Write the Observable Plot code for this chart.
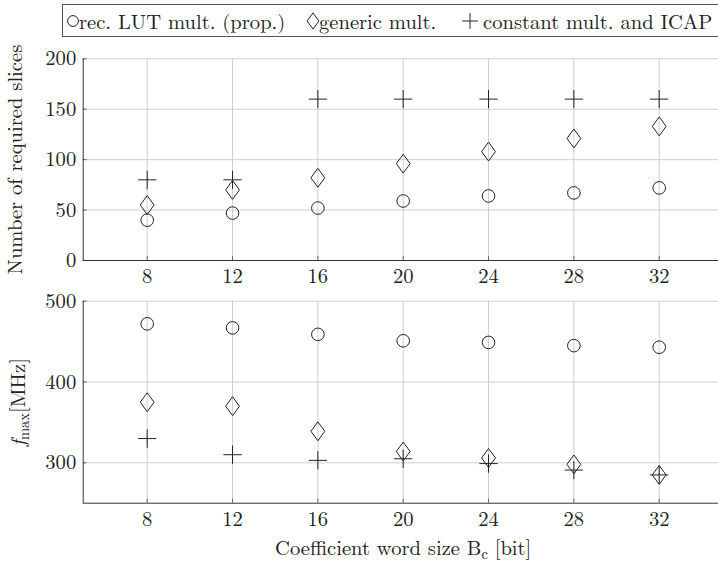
<!DOCTYPE html>
<html>
<head>
<meta charset="utf-8">
<script src="https://cdn.jsdelivr.net/npm/d3@7"></script>
<script src="https://cdn.jsdelivr.net/npm/@observablehq/plot@0.6"></script>
<style>
  html, body { margin: 0; padding: 0; background: #fff; }
  #chart { position: relative; width: 718px; height: 563px; overflow: hidden; color: #222; }
  #chart svg { position: absolute; left: 0; overflow: hidden; }
  #legend { position: absolute; left: 62px; top: 4px; width: 680px; height: 31px; border: 1px solid #555; box-sizing: content-box; }
  .li { position: absolute; top: 0; height: 31px; line-height: 31px; white-space: nowrap; }
</style>
</head>
<body>
<div id="chart">
  <div id="legend"></div>
</div>
<script>
// ---- data ----
const bits = [8, 12, 16, 20, 24, 28, 32];
const seriesNames = ["rec. LUT mult. (prop.)", "generic mult.", "constant mult. and ICAP"];
const slicesLUT = [40, 47, 52, 59, 64, 67, 72];
const slicesGeneric = [55, 70, 82, 96, 108, 121, 133];
const slicesConst = [80, 80, 160, 160, 160, 160, 160];
const fmaxLUT = [472, 467, 459, 451, 449, 445, 443];
const fmaxGeneric = [375, 370, 339, 314, 306, 298, 285];
const fmaxConst = [330, 310, 303, 305, 299, 291, 285];
const slicesTicks = [0, 50, 100, 150, 200];
const fmaxTicks = [300, 400, 500];
const xTitle = "Coefficient word size Bc [bit]";
const yTitleTop = "Number of required slices";
const yTitleBottom = "fmax[MHz]";

const FONT = '"Latin Modern Roman", "Liberation Serif", "Times New Roman", "DejaVu Serif"';
const FSIZE = "20.6px";

// ---- symbols (pgfplots-like) ----
const symCircle = {draw(ctx, size) { const r = Math.sqrt(size / Math.PI); ctx.moveTo(r, 0); ctx.arc(0, 0, r, 0, 2 * Math.PI); ctx.closePath(); }};
const symDiamond = {draw(ctx, size) { const r = Math.sqrt(size / Math.PI); const h = 1.5 * r, w = 1.1 * r; ctx.moveTo(0, -h); ctx.lineTo(w, 0); ctx.lineTo(0, h); ctx.lineTo(-w, 0); ctx.closePath(); }};
const symPlus = {draw(ctx, size) { const r = Math.sqrt(size / Math.PI) * 1.45; ctx.moveTo(-r, 0); ctx.lineTo(r, 0); ctx.moveTo(0, -r); ctx.lineTo(0, r); }};
const symbols = [symCircle, symDiamond, symPlus];

const ink = "#222";
const gridColor = "#cfcfcf";
const axisColor = "#333";
const fontStyle = {fontFamily: FONT, fontSize: FSIZE, background: "transparent", color: ink, overflow: "visible"};

function toRows(vals) { return bits.map((b, i) => ({b, v: vals[i]})); }

function panel({height, marginTop, marginBottom, yDomain, yTicks, series, extraMarks}) {
  const ySpan = yDomain[1] - yDomain[0];
  const yPx = (height - marginTop - marginBottom) / ySpan;
  const xPx = 640 / 30;
  return Plot.plot({
    width: 718,
    height,
    marginLeft: 82.7,
    marginRight: -4.7,
    marginTop,
    marginBottom,
    x: {domain: [5, 35]},
    y: {domain: yDomain},
    style: fontStyle,
    marks: [
      Plot.gridX(bits, {stroke: gridColor, strokeOpacity: 1}),
      Plot.gridY(yTicks, {stroke: gridColor, strokeOpacity: 1}),
      Plot.ruleX(bits, {x: d => d, y1: yDomain[0], y2: yDomain[0] + 4 / yPx, stroke: "#666"}),
      Plot.ruleY(yTicks, {y: d => d, x1: 5, x2: 5 + 4 / xPx, stroke: "#666"}),
      Plot.axisX({ticks: bits, tickSize: 0, tickPadding: 8, label: null}),
      Plot.axisY({ticks: yTicks, tickSize: 0, tickPadding: 7, label: null}),
      Plot.ruleX([5], {stroke: axisColor}),
      Plot.ruleY([yDomain[0]], {stroke: axisColor}),
      ...series.map((vals, i) => Plot.dot(toRows(vals), {x: "b", y: "v", symbol: symbols[i], r: 6.3, stroke: ink, strokeWidth: 1, fill: "none"})),
      ...extraMarks
    ]
  });
}

const chartEl = document.getElementById("chart");

const topPanel = panel({
  height: 250, marginTop: 18.3, marginBottom: 30,
  yDomain: [0, 200], yTicks: slicesTicks,
  series: [slicesLUT, slicesGeneric, slicesConst],
  extraMarks: [
    Plot.text([yTitleTop], {frameAnchor: "left", textAnchor: "middle", lineAnchor: "middle", rotate: -90, dx: -68, fill: ink})
  ]
});
topPanel.style.top = "40px";
chartEl.appendChild(topPanel);

const bottomPanel = panel({
  height: 273, marginTop: 10.7, marginBottom: 60.3,
  yDomain: [250, 500], yTicks: fmaxTicks,
  series: [fmaxLUT, fmaxGeneric, fmaxConst],
  extraMarks: [
    Plot.text([yTitleBottom], {frameAnchor: "left", textAnchor: "middle", lineAnchor: "middle", rotate: -90, dx: -65, fill: ink}),
    Plot.text([xTitle], {frameAnchor: "bottom", textAnchor: "middle", lineAnchor: "middle", dy: 45.3, fill: ink})
  ]
});
bottomPanel.style.top = "290px";
chartEl.appendChild(bottomPanel);

// rich text for titles (italic f, subscripts)
function richText(svg, plain, html) {
  d3.select(svg).selectAll("text").filter(function() { return this.textContent === plain; }).html(html);
}
richText(bottomPanel, yTitleBottom, '<tspan font-style="italic">f</tspan><tspan font-size="14.5" dy="4">max</tspan><tspan dy="-4">[MHz]</tspan>');
richText(bottomPanel, xTitle, 'Coefficient word size B<tspan font-size="14.5" dy="4">c</tspan><tspan dy="-4"> [bit]</tspan>');

// ---- legend ----
const legendEl = document.getElementById("legend");
const legendPos = [{sx: 10, tx: 16}, {sx: 250, tx: 256}, {sx: 407, tx: 420}];
seriesNames.forEach((name, i) => {
  const s = d3.create("svg").attr("width", 24).attr("height", 31)
    .style("position", "absolute").style("top", "0px").style("left", (legendPos[i].sx - 12) + "px");
  const p = d3.path();
  symbols[i].draw(p, 5.4 * 5.4 * Math.PI);
  s.append("path").attr("d", p.toString()).attr("transform", "translate(12,16)")
    .attr("fill", "none").attr("stroke", ink).attr("stroke-width", 1);
  legendEl.appendChild(s.node());
  const t = document.createElement("div");
  t.className = "li";
  t.style.left = legendPos[i].tx + "px";
  t.textContent = name;
  legendEl.appendChild(t);
});

// apply the serif font directly on every text element
d3.selectAll("#chart text, #chart tspan, #chart .li")
  .style("font-family", FONT, "important");
d3.selectAll("#chart .li").style("font-size", FSIZE, "important");
</script>
</body>
</html>
